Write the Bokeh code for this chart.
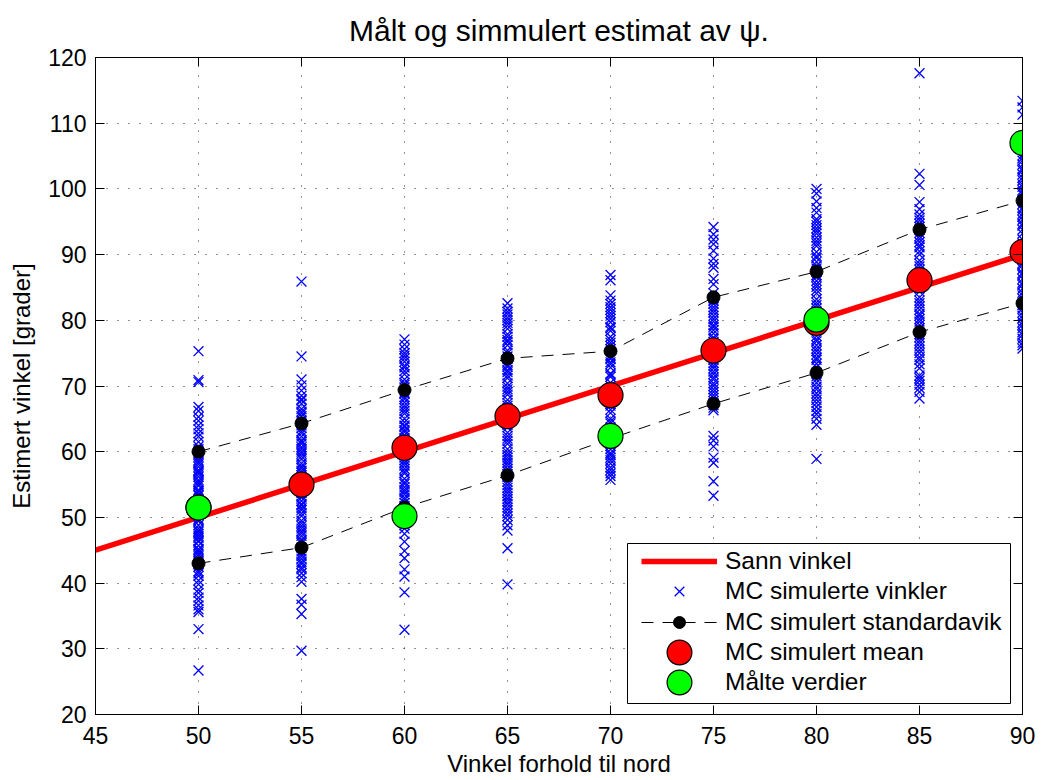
from bokeh.plotting import figure
from bokeh.models import (FixedTicker, LinearAxis, Legend, LegendItem, BoxAnnotation, Range1d)
from bokeh.embed import file_html
from bokeh.resources import INLINE

FONT = "Liberation Sans"

# ---------------- data ----------------
angles = [50, 55, 60, 65, 70, 75, 80, 85, 90]

mc_50 = [75.3, 70.9, 70.6, 66.8, 66.2, 65.3, 64.7, 64.0, 63.4, 62.8, 62.3, 61.5, 60.8, 60.4,
         59.6, 59.2, 58.7, 58.1, 57.7, 57.2, 56.6, 56.2, 55.7, 55.1, 54.8, 54.2, 53.8, 53.3,
         52.7, 52.3, 51.8, 51.2, 50.9, 50.3, 49.8, 49.4, 48.8, 48.3, 47.8, 47.2, 46.9, 46.3,
         45.7, 45.2, 44.7, 44.1, 43.6, 42.9, 42.5, 41.8, 41.1, 40.4, 39.8, 39.0, 38.5, 37.8,
         37.3, 36.6, 36.0, 35.6, 33.0, 26.7,
         58.4, 57.0, 55.4, 54.0, 52.5, 51.0, 49.6, 48.0, 46.5, 45.0, 43.3, 41.5, 59.9, 56.9,
         53.5, 50.6, 47.5, 44.4]
mc_55 = [85.9, 74.5, 71.0, 70.1, 69.3, 68.5, 67.8, 67.3, 66.5, 65.8, 65.4, 64.7, 64.0, 63.6,
         62.8, 62.3, 61.7, 61.2, 60.4, 60.0, 59.3, 58.9, 58.2, 57.8, 57.1, 56.4, 55.9, 55.4,
         54.7, 54.1, 53.7, 53.0, 52.5, 51.8, 51.4, 50.6, 50.2, 49.5, 49.1, 48.3, 47.9, 47.2,
         46.6, 46.1, 45.4, 44.8, 44.4, 43.7, 42.9, 42.4, 41.5, 40.9, 40.2, 37.6, 36.7, 35.3,
         29.7,
         68.0, 66.1, 63.1, 61.5, 59.7, 57.5, 55.1, 53.3, 51.1, 48.7, 46.4, 44.1, 42.1, 60.7,
         56.8, 52.0, 47.6, 43.2]
mc_60 = [77.1, 76.3, 75.6, 75.0, 74.2, 73.7, 73.1, 72.3, 71.8, 71.0, 70.5, 69.8, 68.8, 68.3,
         67.5, 67.0, 66.2, 65.8, 65.0, 64.5, 63.8, 63.3, 62.5, 62.1, 61.4, 60.7, 60.3, 59.5,
         59.1, 58.3, 57.9, 57.0, 56.7, 55.9, 55.4, 54.6, 54.2, 53.5, 53.0, 52.2, 51.7, 50.9,
         50.4, 49.6, 49.1, 48.3, 47.5, 46.3, 44.9, 43.8, 42.1, 41.0, 38.6, 32.9,
         72.8, 70.2, 68.0, 66.6, 64.0, 61.8, 59.8, 57.4, 55.1, 52.7, 50.1, 48.8, 74.6, 69.0,
         63.0, 58.7, 53.9, 49.9]
mc_65 = [82.6, 81.8, 81.3, 80.4, 80.0, 79.2, 78.7, 77.9, 77.5, 76.7, 76.2, 75.4, 75.0, 74.1,
         73.7, 72.9, 72.4, 71.6, 71.2, 70.4, 69.9, 69.1, 68.7, 67.9, 67.4, 66.6, 66.2, 65.4,
         64.9, 64.1, 63.7, 62.9, 62.4, 61.6, 61.2, 60.4, 59.9, 59.1, 58.7, 57.9, 57.4, 56.6,
         56.2, 55.4, 54.9, 54.1, 53.7, 52.8, 52.4, 51.5, 51.1, 50.2, 49.6, 48.8, 48.0, 45.3,
         39.8,
         79.6, 77.0, 74.5, 72.1, 69.5, 67.0, 64.5, 62.0, 59.5, 57.0, 54.5, 52.0, 50.6, 80.9,
         73.2, 65.8, 58.3, 53.2]
mc_70 = [86.9, 86.1, 83.8, 83.0, 82.5, 81.6, 81.1, 80.2, 79.7, 78.8, 78.4, 77.5, 77.0, 76.1,
         75.6, 74.6, 74.1, 73.3, 72.8, 71.9, 71.4, 70.5, 70.0, 69.2, 68.7, 67.8, 67.3, 66.4,
         65.9, 65.0, 64.6, 63.7, 63.2, 62.3, 61.8, 60.9, 60.4, 59.5, 59.1, 58.2, 57.6, 56.7,
         56.3, 55.7,
         82.0, 79.0, 76.6, 74.3, 71.7, 69.6, 67.0, 64.3, 61.5, 59.8, 57.2, 80.7, 73.6, 68.2,
         62.8, 58.7]
mc_75 = [94.2, 93.1, 92.3, 91.6, 90.6, 89.4, 88.6, 88.0, 86.3, 85.5, 84.1, 83.4, 82.5, 82.0,
         81.2, 80.7, 79.8, 79.3, 78.5, 78.0, 77.1, 76.7, 75.8, 75.3, 74.4, 74.0, 73.1, 72.7,
         71.8, 71.3, 70.4, 70.0, 69.1, 68.6, 67.7, 67.1, 66.3, 62.4, 61.7, 60.8, 59.1, 58.3,
         55.5, 53.3,
         83.0, 81.6, 79.0, 77.4, 75.0, 73.5, 71.0, 69.5, 67.4, 66.7, 80.2, 76.3, 72.2, 68.2]
mc_80 = [100.0, 99.3, 98.1, 97.1, 95.4, 94.5, 94.0, 93.2, 92.6, 91.7, 91.3, 90.4, 89.8, 88.9,
         88.3, 87.4, 86.9, 86.0, 85.5, 84.6, 84.1, 83.2, 82.7, 81.8, 81.3, 80.4, 79.9, 79.0,
         78.5, 77.6, 77.1, 76.2, 75.7, 74.8, 74.3, 73.4, 72.9, 72.0, 71.5, 70.5, 69.9, 68.9,
         68.4, 67.4, 66.8, 65.7, 65.0, 64.1, 58.9,
         96.4, 95.0, 92.1, 89.5, 87.9, 85.1, 82.3, 79.5, 76.8, 74.0, 71.0, 67.9, 93.6, 86.6,
         80.9, 75.3, 69.5, 66.2]
mc_85 = [117.6, 102.3, 100.6, 98.0, 96.9, 96.1, 95.6, 94.7, 94.2, 93.3, 92.8, 91.9, 91.4, 90.5,
         90.0, 89.1, 88.6, 87.7, 87.2, 86.3, 85.8, 84.9, 84.4, 83.5, 83.0, 82.1, 81.6, 80.7,
         80.2, 79.3, 78.8, 77.9, 77.4, 76.5, 76.0, 75.0, 74.4, 73.3, 72.7, 71.6, 70.8, 69.7,
         69.1, 68.1,
         95.2, 93.8, 91.1, 88.2, 85.4, 82.6, 79.8, 76.9, 74.0, 71.2, 92.4, 87.0, 81.0, 75.5,
         70.2]
mc_90 = [113.4, 112.4, 111.3, 105.1, 104.3, 103.7, 102.8, 102.2, 101.3, 100.7, 99.8, 99.2,
         98.3, 97.7, 96.8, 96.2, 95.3, 94.7, 93.8, 93.2, 92.3, 91.7, 90.8, 90.2, 89.3, 88.7,
         87.8, 87.2, 86.3, 85.7, 84.8, 84.2, 83.3, 82.7, 81.8, 81.2, 80.3, 79.7, 78.8, 78.2,
         77.2, 76.6, 75.7,
         104.7, 103.1, 101.7, 99.5, 97.1, 94.4, 91.4, 88.4, 85.4, 82.3, 79.3, 77.8, 76.2,
         100.3, 95.8, 90.5, 86.9, 83.8, 80.7]

std_upper = [60.0, 64.3, 69.4, 74.2, 75.3, 83.5, 87.4, 93.8, 98.2]
std_lower = [43.0, 45.4, 51.5, 56.4, 62.0, 67.3, 72.0, 78.2, 82.6]
mc_mean = [51.5, 55.0, 60.6, 65.4, 68.6, 75.4, 79.6, 86.1, 90.4]

meas_angles = [50, 60, 70, 80, 90]
meas_values = [51.5, 50.2, 62.4, 80.1, 107.0]

true_x = [45, 90]
true_y = [45, 90]

x_ticks = [45, 50, 55, 60, 65, 70, 75, 80, 85, 90]
y_ticks = [20, 30, 40, 50, 60, 70, 80, 90, 100, 110, 120]

title_text = "Målt og simmulert estimat av ψ."
x_label = "Vinkel forhold til nord"
y_label = "Estimert vinkel [grader]"
legend_labels = ["Sann vinkel", "MC simulerte vinkler", "MC simulert standardavik",
                 "MC simulert mean", "Målte verdier"]

# ---------------- figure ----------------
p = figure(width=1041, height=780, x_range=Range1d(45, 90), y_range=Range1d(20, 120),
           output_backend="svg", toolbar_location=None,
           min_border_left=95, min_border_right=19, min_border_top=57, min_border_bottom=66)
p.background_fill_color = "white"
p.border_fill_color = "white"
p.outline_line_color = "black"
p.outline_line_width = 1
p.outline_line_alpha = 1

p.title.text = title_text
p.title.align = "center"
p.title.text_font = FONT
p.title.text_font_size = "30px"
p.title.text_font_style = "normal"
p.title.text_color = "black"
p.title.standoff = 21

for ax, ticks in ((p.xaxis[0], x_ticks), (p.yaxis[0], y_ticks)):
    ax.ticker = FixedTicker(ticks=ticks)
    ax.major_tick_in = 9
    ax.major_tick_out = 0
    ax.minor_tick_line_color = None
    ax.axis_line_color = "black"
    ax.major_tick_line_color = "black"
    ax.major_label_text_font = FONT
    ax.major_label_text_font_size = "23px"
    ax.major_label_text_color = "black"
    ax.axis_label_text_font = FONT
    ax.axis_label_text_font_size = "24px"
    ax.axis_label_text_font_style = "normal"
    ax.axis_label_text_color = "black"
p.xaxis.axis_label = x_label
p.yaxis.axis_label = y_label
p.xaxis.major_label_standoff = 12
p.yaxis.major_label_standoff = 9
p.xaxis.axis_label_standoff = 3
p.yaxis.axis_label_standoff = 10

for loc, ticks in (("above", x_ticks), ("right", y_ticks)):
    ax = LinearAxis(ticker=FixedTicker(ticks=ticks), major_tick_in=9, major_tick_out=0,
                    minor_tick_line_color=None, axis_line_color="black",
                    major_tick_line_color="black", major_label_text_font_size="1px",
                    major_label_text_color=None, major_label_text_alpha=0,
                    major_label_standoff=0)
    p.add_layout(ax, loc)

for g, ticks in ((p.xgrid[0], x_ticks), (p.ygrid[0], y_ticks)):
    g.ticker = FixedTicker(ticks=ticks)
    g.grid_line_color = "black"
    g.grid_line_alpha = 0.85
    g.grid_line_dash = "1 10"
    g.grid_line_width = 1

# true line
r_true = p.line(true_x, true_y, line_color="red", line_width=5.5)

# MC samples
groups = [mc_50, mc_55, mc_60, mc_65, mc_70, mc_75, mc_80, mc_85, mc_90]
xs, ys = [], []
for a, vals in zip(angles, groups):
    xs.extend([a] * len(vals))
    ys.extend(vals)
r_mc = p.scatter(xs, ys, marker="x", size=14, line_color="blue", line_width=1.3)

# std lines
r_up_line = p.line(angles, std_upper, line_color="black", line_width=1, line_dash="12 9")
r_lo_line = p.line(angles, std_lower, line_color="black", line_width=1, line_dash="12 9")
r_up_dot = p.scatter(angles, std_upper, marker="circle", size=13, fill_color="black",
                     line_color="black")
r_lo_dot = p.scatter(angles, std_lower, marker="circle", size=13, fill_color="black",
                     line_color="black")

# mean and measured
r_mean = p.scatter(angles, mc_mean, marker="circle", size=25, fill_color="red",
                   line_color="black", line_width=1.2)
r_meas = p.scatter(meas_angles, meas_values, marker="circle", size=25, fill_color="#00ff00",
                   line_color="black", line_width=1.2)

# legend box
box = BoxAnnotation(left=627, right=1010, top=543, bottom=703,
                    left_units="canvas", right_units="canvas",
                    top_units="canvas", bottom_units="canvas",
                    fill_color="white", fill_alpha=1, line_color="black", line_width=1,
                    line_alpha=1)
p.add_layout(box)

legend_specs = [
    ([r_true], legend_labels[0], 30, 138),
    ([r_mc], legend_labels[1], 34, 106),
    ([r_up_line, r_up_dot], legend_labels[2], 30, 77),
    ([r_mean], legend_labels[3], 62, 31),
    ([r_meas], legend_labels[4], 62, 1),
]
for rends, lab, gh, yloc in legend_specs:
    leg = Legend(items=[LegendItem(label=lab, renderers=rends)], location=(546, yloc),
                 glyph_width=76, glyph_height=gh, label_height=gh, label_standoff=8,
                 padding=0, margin=0, spacing=0, border_line_alpha=0,
                 background_fill_alpha=0, label_text_font=FONT,
                 label_text_font_size="24.5px", label_text_color="black")
    p.add_layout(leg)

open("out.html", "w").write(file_html(p, INLINE))
